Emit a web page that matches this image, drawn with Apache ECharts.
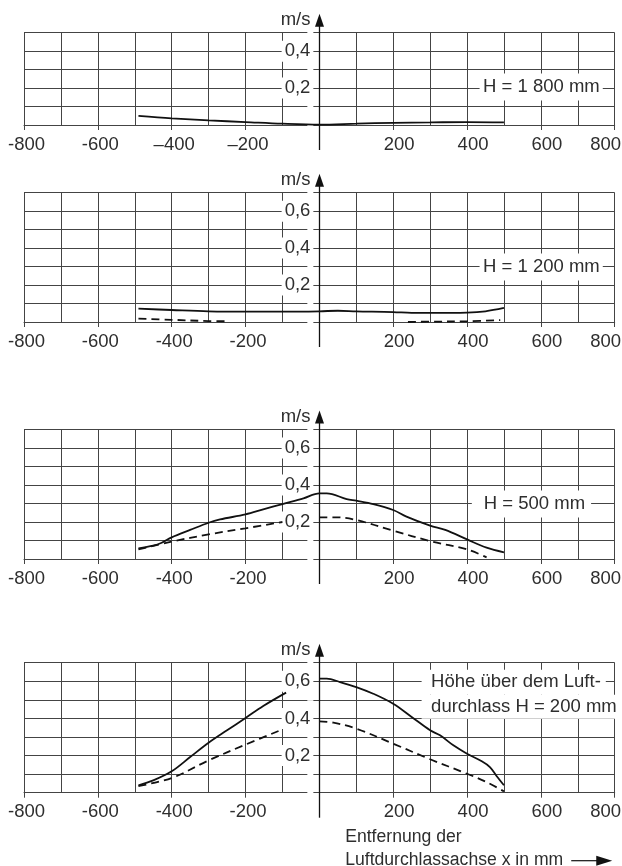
<!DOCTYPE html>
<html><head><meta charset="utf-8">
<script src="https://cdn.jsdelivr.net/npm/echarts@6/dist/echarts.min.js"></script>
<style>html,body{margin:0;padding:0;background:#fff}#c{width:622px;height:866px}</style>
</head><body><div id="c"></div>
<script>
// ---------- data ----------
const xTickValues = [-800, -600, -400, -200, 0, 200, 400, 600, 800];
const xTickLabelsTop = ['-800', '-600', '–400', '–200', '', '200', '400', '600', '800'];
const xTickLabels = ['-800', '-600', '-400', '-200', '', '200', '400', '600', '800'];
const yTickValues = [0.2, 0.4, 0.6];
const yTickLabels = ['0,2', '0,4', '0,6'];
const yMaxima = [0.5, 0.7, 0.7, 0.7];
const unitLabel = 'm/s';
const panelTitles = ['H = 1 800 mm', 'H = 1 200 mm', 'H = 500 mm'];
const panel4Title = ['Höhe über dem Luft-', 'durchlass H = 200 mm'];
const xAxisTitle = ['Entfernung der', 'Luftdurchlassachse x in mm'];

// H = 1800 mm
const p1SolidX = [-490, -400, -300, -200, -100, 0, 100, 200, 300, 400, 500];
const p1SolidY = [0.049, 0.036, 0.025, 0.016, 0.007, 0.002, 0.007, 0.012, 0.014, 0.016, 0.014];

// H = 1200 mm
const p2SolidX = [-490, -400, -300, -200, -100, 0, 50, 100, 200, 250, 300, 400, 450, 500];
const p2SolidY = [0.072, 0.065, 0.058, 0.056, 0.056, 0.058, 0.061, 0.058, 0.054, 0.049, 0.049, 0.051, 0.058, 0.076];
const p2DashX = [-490, -400, -300, -250, 0, 240, 300, 400, 490];
const p2DashY = [0.018, 0.012, 0.005, 0.004, null, 0.0, 0.002, 0.004, 0.010];

// H = 500 mm
const p3SolidX = [-490, -450, -427, -400, -350, -300, -269, -200, -152, -100, -43, 0, 20, 74, 100, 146, 200, 236, 300, 341, 400, 453, 500];
const p3SolidY = [0.058, 0.072, 0.088, 0.117, 0.157, 0.196, 0.214, 0.241, 0.268, 0.297, 0.328, 0.355, 0.355, 0.324, 0.315, 0.297, 0.265, 0.229, 0.180, 0.157, 0.106, 0.061, 0.036];
const p3DashX = [-490, -400, -300, -200, -100, -50, 0, 47, 100, 200, 300, 400, 453];
const p3DashY = [0.052, 0.094, 0.133, 0.166, 0.200, null, 0.225, 0.225, 0.211, 0.153, 0.097, 0.052, 0.009];

// H = 200 mm
const p4SolidX = [-490, -450, -400, -350, -300, -250, -200, -152, -90, -45, 0, 20, 56, 100, 146, 200, 250, 300, 327, 363, 400, 440, 462, 480, 500];
const p4SolidY = [0.040, 0.066, 0.115, 0.192, 0.269, 0.336, 0.402, 0.467, 0.539, null, 0.614, 0.614, 0.596, 0.569, 0.533, 0.479, 0.408, 0.336, 0.309, 0.255, 0.210, 0.169, 0.138, 0.090, 0.040];
const p4DashX = [-490, -400, -300, -200, -100, -50, 0, 38, 100, 200, 300, 400, 453, 500];
const p4DashY = [0.036, 0.079, 0.174, 0.259, 0.341, null, 0.384, 0.377, 0.345, 0.264, 0.180, 0.102, 0.057, 0.007];

// ---------- styles / layout ----------
const FONT = 'Liberation Sans, Arial, Helvetica, sans-serif';
const FS = 18.5;
const FS_TITLE = 17.6;
const TXT = '#2e2e2e';
const GRIDC = '#444';
const CURVE = '#111';
const grids = [
  {left: 24, right: 7.3, top: 32.7, height: 92.3},
  {left: 24, right: 7.3, top: 192.7, height: 129.3},
  {left: 24, right: 7.3, top: 429.5, height: 129.5},
  {left: 24, right: 7.3, top: 662.7, height: 130}
];

function pairs(xs, ys) { return xs.map((x, i) => [x, ys[i]]); }

function xFormatter(labels) {
  return function (v) {
    const i = xTickValues.indexOf(Math.round(v));
    const s = i >= 0 ? labels[i] : '';
    if (!s) return '';
    if (v === 800) return '{e|' + s + '}';
    if (v > 0) return '{p|' + s + '}';
    return '{n|' + s + '}';
  };
}
function yFormatter(v) {
  for (let i = 0; i < yTickValues.length; i++) {
    if (Math.abs(v - yTickValues[i]) < 1e-6) return yTickLabels[i];
  }
  return '';
}
const richBase = {fontSize: FS, fontFamily: FONT, color: TXT};

const xAxes = [], yAxes = [];
for (let i = 0; i < 4; i++) {
  xAxes.push({
    type: 'value', gridIndex: i, min: -800, max: 800, interval: 200,
    axisLine: {show: true, onZero: false, lineStyle: {color: GRIDC, width: 1}},
    axisTick: {show: true, length: 5, lineStyle: {color: GRIDC, width: 1}},
    minorTick: {show: false, splitNumber: 2},
    splitLine: {show: true, lineStyle: {color: GRIDC, width: 1}},
    minorSplitLine: {show: true, lineStyle: {color: GRIDC, width: 1}},
    axisLabel: {
      show: true, margin: 10, showMinLabel: true, showMaxLabel: true,
      formatter: xFormatter(i === 0 ? xTickLabelsTop : xTickLabels),
      fontSize: FS, fontFamily: FONT, color: TXT,
      rich: {
        n: Object.assign({padding: [0, 0, 0, 5]}, richBase),
        p: Object.assign({padding: [0, 0, 0, 12]}, richBase),
        e: Object.assign({padding: [0, 18, 0, 0]}, richBase)
      }
    }
  });
  yAxes.push({
    type: 'value', gridIndex: i, min: 0, max: yMaxima[i], interval: 0.1,
    position: 'left', offset: 0,
    axisLine: {show: false, onZero: false},
    axisTick: {show: false},
    splitLine: {show: true, lineStyle: {color: GRIDC, width: 1}},
    axisLabel: {
      show: true, margin: 6, formatter: yFormatter,
      fontSize: FS, fontFamily: FONT, color: TXT,
      backgroundColor: '#fff', padding: [1, 3, 1, 3]
    }
  });
}

function lineSeries(idx, xs, ys, dashed) {
  return {
    type: 'line', xAxisIndex: idx, yAxisIndex: idx,
    data: pairs(xs, ys), symbol: 'none', showSymbol: false,
    smooth: 0.35, connectNulls: false, z: 3,
    lineStyle: {color: CURVE, width: 1.8, type: dashed ? [8, 5] : 'solid'},
    emphasis: {disabled: true}, silent: true
  };
}

const option = {
  animation: false,
  backgroundColor: '#fff',
  grid: grids.map(g => Object.assign({containLabel: false, outerBoundsMode: 'none'}, g)),
  xAxis: xAxes,
  yAxis: yAxes,
  series: [
    lineSeries(0, p1SolidX, p1SolidY, false),
    lineSeries(1, p2SolidX, p2SolidY, false),
    lineSeries(1, p2DashX, p2DashY, true),
    lineSeries(2, p3SolidX, p3SolidY, false),
    lineSeries(2, p3DashX, p3DashY, true),
    lineSeries(3, p4SolidX, p4SolidY, false),
    lineSeries(3, p4DashX, p4DashY, true)
  ]
};

const chart = echarts.init(document.getElementById('c'), null, {renderer: 'canvas'});
chart.setOption(option);

// move the y axes (labels) onto x = 0 of their panel
const yOffsets = [];
for (let i = 0; i < 4; i++) {
  const x0 = chart.convertToPixel({gridIndex: i}, [0, 0])[0];
  const xl = chart.convertToPixel({gridIndex: i}, [-800, 0])[0];
  yOffsets.push({offset: -(x0 - xl)});
}
chart.setOption({yAxis: yOffsets});

// ---------- annotations positioned through the axes ----------
const gr = [];
function txt(x, y, text, extra) {
  return {
    type: 'text', x: x, y: y, z: 20, silent: true,
    style: Object.assign({text: text, fontSize: FS, fontFamily: FONT, fill: TXT,
      align: 'left', verticalAlign: 'middle'}, extra || {})
  };
}
for (let i = 0; i < 4; i++) {
  const p0 = chart.convertToPixel({gridIndex: i}, [0, 0]);
  const pt = chart.convertToPixel({gridIndex: i}, [0, yMaxima[i]]);
  const x0 = Math.round(p0[0]) + 0.5;
  const tip = pt[1] - 19;
  gr.push({type: 'line', z: 20, silent: true,
    shape: {x1: x0, y1: p0[1] + 25, x2: x0, y2: tip + 10},
    style: {stroke: CURVE, lineWidth: 1.3}});
  gr.push({type: 'polygon', z: 20, silent: true,
    shape: {points: [[x0, tip], [x0 - 4.5, tip + 13], [x0 + 4.5, tip + 13]]},
    style: {fill: CURVE}});
  gr.push(txt(x0 - 9, tip + 6, unitLabel, {align: 'right'}));
}
// H labels panels 1-3
const titleAnchors = [[434, 0.2], [434, 0.3], [413, 0.3]];
const titlePads = [[4, 3, 4, 3.5], [4, 3, 4, 3.5], [4, 6, 4, 12]];
for (let i = 0; i < 3; i++) {
  const p = chart.convertToPixel({gridIndex: i}, titleAnchors[i]);
  gr.push(txt(p[0], p[1] + (i === 0 ? -1 : 0.5), panelTitles[i],
    {backgroundColor: '#fff', padding: titlePads[i]}));
}
// panel 4 title (two lines, each with own white box)
{
  const a = chart.convertToPixel({gridIndex: 3}, [277, 0.6]);
  const b = chart.convertToPixel({gridIndex: 3}, [277, 0.5]);
  gr.push(txt(a[0], a[1] + 1, panel4Title[0], {backgroundColor: '#fff', padding: [3, 5, 3, 9.5]}));
  gr.push(txt(b[0], b[1] + 6.8, panel4Title[1], {backgroundColor: '#fff', padding: [3, 30, 2, 9.5]}));
}
// x axis title with arrow
{
  const p0 = chart.convertToPixel({gridIndex: 3}, [0, 0]);
  const tx = chart.convertToPixel({gridIndex: 3}, [70, 0])[0];
  const y1 = p0[1] + 44.5, y2 = p0[1] + 67.5;
  gr.push(txt(tx, y1, xAxisTitle[0], {fontSize: FS_TITLE}));
  gr.push(txt(tx, y2, xAxisTitle[1], {fontSize: FS_TITLE}));
  const ax = chart.convertToPixel({gridIndex: 3}, [750, 0])[0];
  gr.push({type: 'line', z: 20, silent: true,
    shape: {x1: ax - 25, y1: y2 + 0.5, x2: ax + 2, y2: y2 + 0.5},
    style: {stroke: CURVE, lineWidth: 1.2}});
  gr.push({type: 'polygon', z: 20, silent: true,
    shape: {points: [[ax, y2 - 4.5], [ax + 16, y2 + 0.5], [ax, y2 + 5.5]]},
    style: {fill: CURVE}});
}
chart.setOption({graphic: gr});
</script>
</body></html>
